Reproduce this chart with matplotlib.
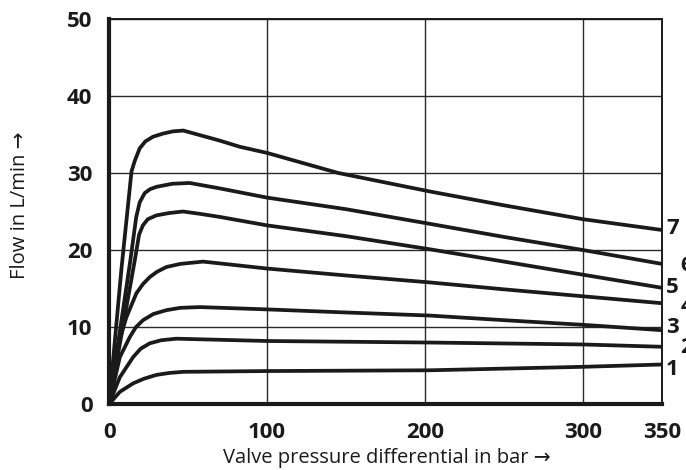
import matplotlib.pyplot as plt

# curve points (x = bar, y = L/min)
x7 = [0, 7.8, 14.2, 16.3, 19.4, 23, 27.8, 34, 40.5, 47, 70, 82.7, 100, 145, 203, 250, 300, 350]
y7 = [0, 17.5, 30.2, 31.6, 33.2, 34.1, 34.7, 35.1, 35.4, 35.5, 34.2, 33.4, 32.6, 30.0, 27.6, 25.8, 24.0, 22.6]
x6 = [0, 13.5, 17.2, 19.4, 22.6, 26, 30, 40, 51, 70, 100, 150, 203, 250, 300, 350]
y6 = [0, 18.7, 24.3, 26.2, 27.4, 27.9, 28.2, 28.6, 28.7, 28.0, 26.8, 25.3, 23.4, 21.7, 20.0, 18.2]
x5 = [0, 16.3, 19.0, 21.4, 24.5, 30, 38, 46.8, 57.4, 70, 100, 150, 203, 250, 300, 350]
y5 = [0, 18.7, 22.0, 23.2, 24.0, 24.5, 24.8, 25.0, 24.7, 24.3, 23.2, 21.8, 20.1, 18.5, 16.8, 15.1]
x4 = [0, 4.7, 11, 17.3, 21.5, 25.8, 30.5, 36.3, 45, 59.5, 100, 150, 203, 250, 300, 350]
y4 = [0, 7.0, 11.3, 14.4, 15.6, 16.5, 17.2, 17.8, 18.2, 18.5, 17.6, 16.7, 15.8, 14.9, 14.0, 13.1]
x3 = [0, 6.8, 13.1, 17, 21.5, 28, 36.3, 45, 57.4, 100, 150, 203, 250, 300, 350]
y3 = [0, 6.1, 8.7, 10.0, 10.9, 11.7, 12.2, 12.5, 12.6, 12.3, 11.9, 11.5, 10.9, 10.3, 9.6]
x2 = [0, 6.8, 15.2, 20, 25.8, 33, 42.6, 100, 203, 300, 350]
y2 = [0, 3.5, 6.1, 7.2, 7.9, 8.3, 8.5, 8.2, 8.0, 7.75, 7.45]
x1 = [0, 6.8, 15.2, 22, 30, 38, 46.8, 100, 203, 300, 350]
y1 = [0, 1.6, 2.7, 3.3, 3.8, 4.05, 4.2, 4.3, 4.4, 4.85, 5.15]

names = ["1", "2", "3", "4", "5", "6", "7"]
xs_all = [x1, x2, x3, x4, x5, x6, x7]
ys_all = [y1, y2, y3, y4, y5, y6, y7]
label_y = [4.5, 7.3, 10.0, 12.7, 15.1, 18.0, 22.8]

xticks = [0, 100, 200, 300, 350]
yticks = [0, 10, 20, 30, 40, 50]

plt.rcParams['font.family'] = ['Open Sans', 'DejaVu Sans']

fig = plt.figure(figsize=(6.86, 4.70), dpi=100)
ax = fig.add_axes([0.159, 0.140, 0.806, 0.820])

for name, xs, ys, ly in zip(names, xs_all, ys_all, label_y):
    ax.plot(xs, ys, color='#1a1a1a', lw=2.7, solid_joinstyle='round', solid_capstyle='round')
    # odd numbers sit close to the edge, even ones are pushed further out
    xl = 352.5 if int(name) % 2 == 1 else 361.5
    ax.text(xl, ly, name, fontsize=16, fontweight='bold', color='#1a1a1a',
            ha='left', va='center', clip_on=False)

ax.set_xlim(0, 350)
ax.set_ylim(0, 50)
ax.set_xticks(xticks)
ax.set_yticks(yticks)
ax.tick_params(length=0, labelsize=16, colors='#1a1a1a')
ax.tick_params(axis='y', pad=12)
ax.tick_params(axis='x', pad=13)
for lab in ax.get_xticklabels() + ax.get_yticklabels():
    lab.set_fontweight('bold')

ax.grid(True, color='#2a2a2a', lw=1.0)
ax.set_axisbelow(True)
for s in ['left', 'bottom']:
    ax.spines[s].set_linewidth(3.0)
for s in ['top', 'right']:
    ax.spines[s].set_linewidth(1.4)
for s in ax.spines.values():
    s.set_color('#1a1a1a')

fig.text(387 / 686, 1 - 458 / 470, "Valve pressure differential in bar \u2192",
         fontsize=14.5, color='#1a1a1a', ha='center', va='center')
fig.text(20 / 686, 1 - 205 / 470, "Flow in L/min \u2192", fontsize=14.5,
         color='#1a1a1a', rotation=90, ha='center', va='center')

fig.savefig("out.png", dpi=100)
